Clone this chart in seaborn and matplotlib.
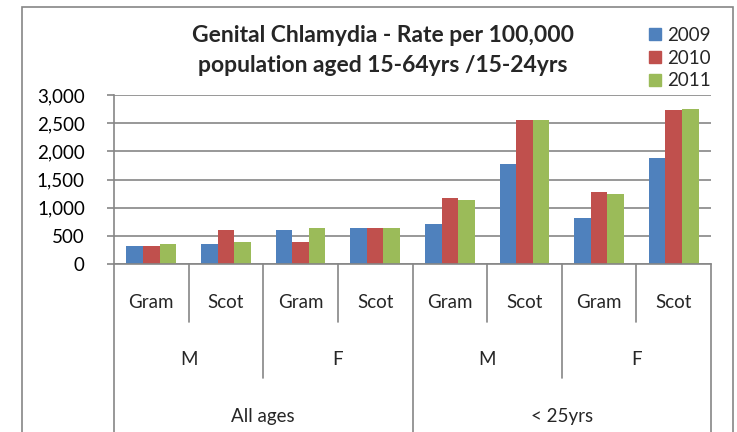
import matplotlib
matplotlib.use("Agg")
import matplotlib.pyplot as plt
import seaborn as sns
import pandas as pd
from matplotlib.patches import Rectangle
from matplotlib.lines import Line2D

# ---- data ----
age_groups = ["All ages", "< 25yrs"]
sexes = ["M", "F"]
areas = ["Gram", "Scot"]
years = ["2009", "2010", "2011"]
rate_2009 = [325, 361, 604, 644, 710, 1769, 817, 1876]
rate_2010 = [325, 604, 390, 644, 1172, 2550, 1278, 2728]
rate_2011 = [361, 390, 644, 644, 1136, 2550, 1243, 2757]
yticks = [0, 500, 1000, 1500, 2000, 2500, 3000]
title = "Genital Chlamydia - Rate per 100,000\npopulation aged 15-64yrs /15-24yrs"

colors = ["#4F81BD", "#C0504D", "#9BBB59"]
grid_c = "#868686"

cats = [f"{a}|{s}|{r}" for a in age_groups for s in sexes for r in areas]
rows = []
for yr, vals in zip(years, [rate_2009, rate_2010, rate_2011]):
    for c, v in zip(cats, vals):
        rows.append({"cat": c, "year": yr, "rate": v})
df = pd.DataFrame(rows)

sns.set_style("white")
plt.rcParams["font.family"] = ["Lato", "DejaVu Sans"]

W, H = 737, 432
fig = plt.figure(figsize=(W / 100, H / 100), dpi=100)
ax = fig.add_axes([114 / W, 1 - 264 / H, (711 - 114) / W, (264 - 95) / H])

sns.barplot(data=df, x="cat", y="rate", hue="year", order=cats, hue_order=years,
            palette=colors, width=2 / 3, ax=ax, saturation=1, legend=True,
            edgecolor="none", linewidth=0)

fs = 13.5
ax.set_xlim(-0.5, len(cats) - 0.5)
ax.set_ylim(0, 3000)
ax.set_yticks(yticks)
ax.set_yticklabels([f"{t:,}" for t in yticks], fontsize=fs)
ax.set_xticks([])
ax.set_xlabel("")
ax.set_ylabel("")
ax.yaxis.grid(True, color=grid_c, linewidth=1.2)
ax.set_axisbelow(True)
for s in ["top", "right"]:
    ax.spines[s].set_visible(False)
for s in ["left", "bottom"]:
    ax.spines[s].set_color(grid_c)
    ax.spines[s].set_linewidth(1.2)
ax.tick_params(axis="y", direction="out", length=5, width=1.2, color=grid_c,
               left=True, pad=16, labelcolor="black")

# multi-level category axis
trans = ax.get_xaxis_transform()
for i, c in enumerate(cats):
    ax.text(i, -0.225, c.split("|")[2], transform=trans, ha="center", va="center", fontsize=fs)
for j in range(len(age_groups) * len(sexes)):
    ax.text(j * 2 + 0.5, -0.568, sexes[j % 2], transform=trans, ha="center", va="center", fontsize=fs)
for k, a in enumerate(age_groups):
    ax.text(k * 4 + 1.5, -0.905, a, transform=trans, ha="center", va="center", fontsize=fs)

def vline(x, ybot):
    ax.add_line(Line2D([x, x], [0, ybot], transform=trans, color=grid_c,
                       linewidth=1.2, clip_on=False))

for x in [0.5, 2.5, 4.5, 6.5]:
    vline(x, -0.343)
for x in [1.5, 5.5]:
    vline(x, -0.675)
for x in [-0.5, 3.5, 7.5]:
    vline(x, -1.2)

# title
fig.text(383 / W, 1 - 50.5 / H, title, ha="center", va="center", fontsize=16.5,
         fontweight="bold", linespacing=1.52)

# legend
ax.get_legend().remove()
handles = [Rectangle((0, 0), 1, 1, color=c) for c in colors]
fig.legend(handles, years, loc="upper left", bbox_to_anchor=(649 / W, 1 - 27 / H),
           frameon=False, fontsize=fs, handlelength=0.62, handleheight=0.62,
           handletextpad=0.35, labelspacing=0.3, borderaxespad=0, borderpad=0)

# outer chart frame
fig.patches.append(Rectangle((22 / W, -0.2), (733 - 22) / W, 1.2 - 7 / H,
                             transform=fig.transFigure, fill=False,
                             edgecolor=grid_c, linewidth=1.2))

fig.savefig("out.png", dpi=100)
